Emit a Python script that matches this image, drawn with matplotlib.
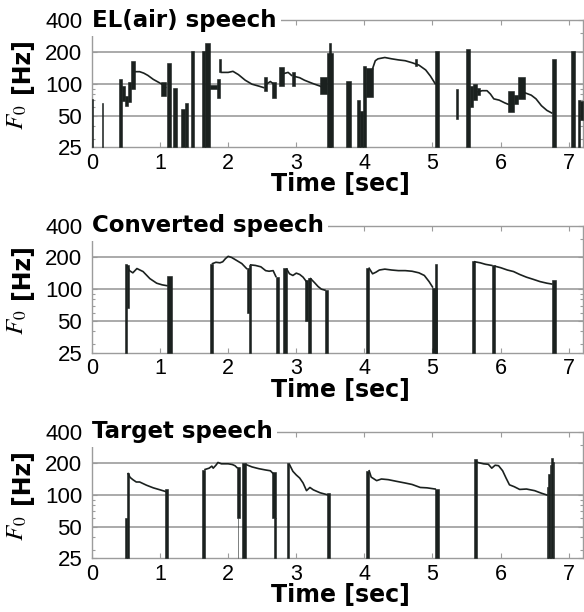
import numpy as np
import matplotlib.pyplot as plt
from matplotlib.ticker import LogLocator, NullFormatter

plt.rcParams['font.family'] = ['Liberation Sans', 'DejaVu Sans']

titles = ['EL(air) speech', 'Converted speech', 'Target speech']
yticks = [25, 50, 100, 200, 400]
xticks = [0, 1, 2, 3, 4, 5, 6, 7]

# ---- EL(air) speech : F0 contours (time [s], F0 [Hz]) ----
el_lines = [
    ([0.63, 0.70, 0.76, 0.82, 0.90, 0.98, 1.04, 1.08], [130, 130, 126, 120, 110, 103, 98, 92]),
    ([1.90, 2.00, 2.07, 2.15, 2.25, 2.35, 2.45, 2.52], [128, 128, 131, 122, 108, 99, 95, 92]),
    ([2.57, 2.62, 2.66], [100, 105, 100]),
    ([2.82, 2.88, 2.93], [125, 128, 120]),
    ([2.98, 3.05, 3.12, 3.20, 3.27, 3.35, 3.42], [117, 114, 108, 103, 99, 95, 90]),
    ([4.05, 4.08, 4.10, 4.13, 4.16, 4.20, 4.30, 4.40, 4.50, 4.60, 4.70, 4.80, 4.90, 4.97, 5.04],
     [80, 100, 125, 145, 165, 172, 177, 172, 168, 165, 158, 150, 135, 118, 100]),
    ([5.67, 5.73, 5.80, 5.85, 5.90, 5.98, 6.06, 6.11], [84, 86, 86, 80, 72, 70, 66, 64]),
    ([6.36, 6.45, 6.52, 6.60, 6.68, 6.75], [82, 78, 72, 62, 56, 53]),
]
# vertical bars (t start, t end, F0 low, F0 high); low 25 = down to the axis floor
el_bars = [
    (0.00, 0.015, 25, 72), (0.14, 0.165, 25, 66), (0.39, 0.44, 25, 111),
    (0.44, 0.49, 68, 95), (0.49, 0.53, 62, 76), (0.53, 0.58, 67, 103),
    (0.58, 0.63, 89, 164), (1.01, 1.09, 77, 103), (1.10, 1.16, 25, 158),
    (1.19, 1.25, 25, 92), (1.31, 1.36, 25, 58), (1.36, 1.41, 25, 66),
    (1.46, 1.50, 25, 205), (1.62, 1.66, 25, 205), (1.66, 1.73, 25, 245),
    (1.73, 1.83, 90, 97), (1.83, 1.88, 74, 111), (1.86, 1.90, 128, 170),
    (2.52, 2.57, 85, 117), (2.64, 2.70, 73, 103), (2.74, 2.82, 96, 143),
    (2.93, 2.98, 96, 130), (3.35, 3.45, 80, 116), (3.45, 3.54, 25, 195),
    (3.48, 3.51, 25, 240), (3.73, 3.80, 25, 107), (3.89, 3.94, 25, 70),
    (3.94, 3.98, 25, 55), (3.98, 4.03, 25, 147), (4.03, 4.12, 75, 140),
    (4.74, 4.77, 148, 170), (5.04, 5.09, 25, 205), (5.34, 5.38, 46, 89),
    (5.49, 5.55, 25, 215), (5.55, 5.60, 60, 95), (5.60, 5.65, 70, 100),
    (5.65, 5.70, 78, 92), (6.11, 6.20, 54, 86), (6.20, 6.25, 64, 78),
    (6.25, 6.36, 71, 115), (6.75, 6.82, 25, 172), (7.03, 7.09, 25, 205),
    (7.14, 7.16, 25, 70), (7.16, 7.21, 45, 68),
]

# ---- Converted speech ----
cv_lines = [
    ([0.52, 0.55, 0.60, 0.66, 0.75, 0.85, 0.95, 1.03, 1.10], [165, 150, 143, 157, 147, 126, 114, 110, 108]),
    ([1.77, 1.82, 1.88, 1.92, 1.96, 2.00, 2.05, 2.12, 2.20, 2.27], [175, 180, 178, 182, 195, 205, 200, 188, 175, 157]),
    ([2.33, 2.40, 2.48, 2.55, 2.60, 2.66, 2.70], [170, 168, 163, 150, 148, 150, 132]),
    ([2.86, 2.90, 2.95, 3.00, 3.05, 3.10, 3.14], [155, 140, 135, 142, 138, 130, 120]),
    ([3.21, 3.27, 3.32, 3.37, 3.42], [126, 115, 106, 100, 98]),
    ([4.07, 4.12, 4.17, 4.22, 4.30, 4.40, 4.50, 4.60, 4.70, 4.80, 4.88, 4.95, 5.00],
     [158, 140, 145, 152, 155, 152, 150, 150, 148, 143, 135, 118, 105]),
    ([5.62, 5.70, 5.78, 5.87], [182, 178, 172, 168]),
    ([5.92, 6.00, 6.10, 6.19, 6.28, 6.38, 6.48, 6.58, 6.68, 6.75], [165, 160, 152, 147, 138, 130, 124, 118, 114, 112]),
]
cv_bars = [
    (0.49, 0.51, 25, 172), (0.51, 0.54, 66, 168), (1.10, 1.17, 25, 132),
    (1.74, 1.77, 25, 173), (2.27, 2.30, 60, 160), (2.30, 2.33, 25, 168),
    (2.70, 2.75, 25, 130), (2.81, 2.86, 25, 158), (3.13, 3.17, 50, 122),
    (3.17, 3.21, 25, 128), (3.42, 3.47, 25, 98), (4.02, 4.07, 25, 160),
    (5.00, 5.06, 25, 102), (5.04, 5.06, 25, 172), (5.58, 5.62, 25, 185),
    (5.87, 5.92, 25, 168), (6.75, 6.82, 25, 122),
]

# ---- Target speech ----
tg_lines = [
    ([0.53, 0.56, 0.60, 0.65, 0.70, 0.80, 0.90, 1.00, 1.08], [160, 147, 140, 133, 133, 124, 117, 112, 108]),
    ([1.66, 1.72, 1.76, 1.78, 1.82, 1.85, 1.90, 2.00, 2.06, 2.10, 2.13], [175, 180, 188, 180, 192, 204, 198, 198, 195, 190, 182]),
    ([2.26, 2.35, 2.45, 2.55, 2.62, 2.66], [195, 185, 178, 173, 170, 160]),
    ([2.90, 2.95, 3.00, 3.05, 3.10, 3.15, 3.20, 3.25, 3.35, 3.47], [195, 168, 155, 145, 130, 110, 118, 112, 105, 100]),
    ([4.07, 4.10, 4.18, 4.25, 4.35, 4.47, 4.60, 4.70, 4.82, 4.92, 5.04], [170, 148, 137, 142, 140, 135, 130, 126, 118, 117, 114]),
    ([5.65, 5.75, 5.82, 5.87, 5.92, 5.97, 6.03, 6.08, 6.13, 6.20, 6.28, 6.38, 6.50, 6.60, 6.68],
     [205, 198, 196, 180, 192, 190, 170, 145, 125, 120, 113, 114, 110, 104, 100]),
]
tg_bars = [
    (0.49, 0.51, 25, 60), (0.51, 0.54, 25, 162), (1.07, 1.12, 25, 114),
    (1.61, 1.66, 25, 172), (2.13, 2.17, 60, 185), (2.14, 2.15, 25, 60),
    (2.21, 2.26, 25, 200), (2.65, 2.70, 60, 165), (2.68, 2.70, 25, 60),
    (2.86, 2.90, 25, 200), (3.45, 3.50, 25, 105), (4.02, 4.07, 25, 170),
    (5.04, 5.09, 25, 115), (5.61, 5.65, 25, 218), (6.68, 6.70, 25, 120),
    (6.70, 6.72, 25, 160), (6.72, 6.74, 25, 195), (6.74, 6.77, 25, 225),
    (6.77, 6.79, 25, 205),
]

panels = [(el_lines, el_bars), (cv_lines, cv_bars), (tg_lines, tg_bars)]

ink = '#1b211f'
frame = '#9c9c9c'

fig = plt.figure(figsize=(5.84, 6.12), dpi=100)
positions = [[0.1575, 0.759, 0.8408, 0.2083],
             [0.1575, 0.4237, 0.8408, 0.2075],
             [0.1575, 0.0877, 0.8408, 0.2069]]

for pos, title, (lines, bars) in zip(positions, titles, panels):
    ax = fig.add_axes(pos)
    ax.set_yscale('log')
    ax.set_xlim(0, 7.21)
    ax.set_ylim(25, 400)

    for t0, t1, lo, hi in bars:
        ax.fill_between([t0, t1], [lo, lo], [hi, hi], color=ink, lw=0.4, zorder=3)
    for t, f in lines:
        ax.plot(t, f, color=ink, lw=1.2, zorder=3)

    ax.set_yticks(yticks)
    ax.set_yticklabels([str(v) for v in yticks])
    ax.yaxis.set_minor_locator(LogLocator(base=10, subs=np.arange(2, 10)))
    ax.yaxis.set_minor_formatter(NullFormatter())
    ax.set_xticks(xticks)
    ax.tick_params(which='both', direction='in', top=True, right=True,
                   color=frame, labelsize=16, width=0.8)
    ax.tick_params(which='major', length=3.5)
    ax.tick_params(which='minor', length=2.5)
    ax.tick_params(axis='y', pad=7)
    ax.tick_params(axis='x', pad=4, labelsize=15.5)

    for yv in [50, 100, 200]:
        ax.axhline(yv, color=frame, lw=1.2, zorder=1)
    for s in ax.spines.values():
        s.set_color(frame)
        s.set_linewidth(1.0)

    ax.text(0, 1, title, transform=ax.transAxes, ha='left', va='center',
            fontsize=16.5, fontweight='bold', family='DejaVu Sans',
            bbox=dict(facecolor='white', edgecolor='none', pad=3),
            zorder=10, clip_on=False)
    ax.text(0.506, -0.345, 'Time [sec]', transform=ax.transAxes, ha='center',
            va='baseline', fontsize=17, fontweight='bold', family='DejaVu Sans')
    ax.text(-0.1415, 0.642, '[Hz]', transform=ax.transAxes, rotation=90,
            ha='center', va='center', fontsize=17, fontweight='bold', family='DejaVu Sans')
    ax.text(-0.153, 0.239, r'$F_0$', transform=ax.transAxes, rotation=90,
            ha='center', va='center', fontsize=18, math_fontfamily='stix')

fig.savefig('out.png', dpi=100)
